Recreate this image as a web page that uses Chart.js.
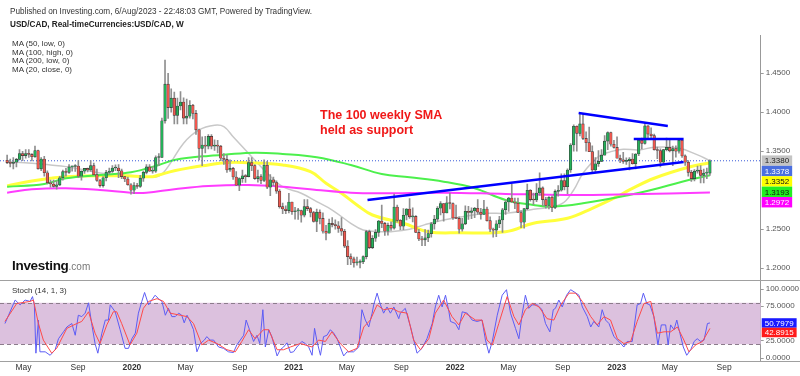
<!DOCTYPE html>
<html>
<head>
<meta charset="utf-8">
<script src="https://cdn.jsdelivr.net/npm/chart.js@4.4.0/dist/chart.umd.min.js"></script>
<style>
  html, body { margin: 0; padding: 0; background: #fff; }
  body { width: 800px; height: 376px; position: relative; overflow: hidden;
         font-family: "Liberation Sans", Arial, sans-serif; color: #333; }
  .t { position: absolute; white-space: nowrap; z-index: 2; }
  #priceBox { position: absolute; left: 0; top: 0; width: 800px; height: 281px; }
  #stochBox { position: absolute; left: 0; top: 281px; width: 800px; height: 95px; }
  .sep { position: absolute; left: 0; width: 800px; height: 1px; background: #a0a0a0; z-index: 1; }
</style>
</head>
<body>
<div id="priceBox"><canvas id="priceChart" width="800" height="281"></canvas></div>
<div id="stochBox"><canvas id="stochChart" width="800" height="95"></canvas></div>
<div class="sep" style="top:280px"></div>
<div class="sep" style="top:361px"></div>

<div class="t" style="left:10px;top:7px;font-size:8.2px;">Published on Investing.com, 6/Aug/2023 - 22:48:03 GMT, Powered by TradingView.</div>
<div class="t" style="left:10px;top:20px;font-size:8.2px;font-weight:bold;color:#222;">USD/CAD, Real-timeCurrencies:USD/CAD, W</div>
<div class="t" style="left:12px;top:40px;font-size:8px;line-height:8.5px;">MA (50, low, 0)<br>MA (100, high, 0)<br>MA (200, low, 0)<br>MA (20, close, 0)</div>
<div class="t" style="left:320px;top:108px;font-size:12.5px;line-height:14.7px;font-weight:bold;color:#f01818;">The 100 weekly SMA<br>held as support</div>
<div class="t" style="left:12px;top:258px;font-size:13.5px;font-weight:bold;color:#111;letter-spacing:-0.3px;">Investing<span style="font-weight:normal;color:#777;font-size:10px;letter-spacing:0">.com</span></div>
<div class="t" style="left:12px;top:286px;font-size:8px;">Stoch (14, 1, 3)</div>

<script>
// weekly USD/CAD candles, week 0 = 25 Mar 2019, week 227 = 31 Jul 2023
const opens = [
  1.3385, 1.3355, 1.3345, 1.3360, 1.3395, 1.3470, 1.3445, 1.3470, 1.3460, 1.3430, 1.3510, 1.3275,
  1.3400, 1.3225, 1.3095, 1.3080, 1.3050, 1.3070, 1.3160, 1.3240, 1.3230, 1.3300, 1.3305, 1.3310,
  1.3180, 1.3245, 1.3280, 1.3260, 1.3315, 1.3200, 1.3125, 1.3060, 1.3160, 1.3230, 1.3240, 1.3285,
  1.3285, 1.3250, 1.3175, 1.3145, 1.3070, 1.3000, 1.3060, 1.3050, 1.3155, 1.3230, 1.3300, 1.3245,
  1.3245, 1.3420, 1.3420, 1.3890, 1.4360, 1.4060, 1.4180, 1.3960, 1.4080, 1.4130, 1.3925, 1.3950,
  1.4090, 1.3985, 1.3775, 1.3535, 1.3580, 1.3565, 1.3690, 1.3565, 1.3580, 1.3565, 1.3410, 1.3395,
  1.3260, 1.3280, 1.3170, 1.3065, 1.3150, 1.3185, 1.3175, 1.3355, 1.3315, 1.3150, 1.3175, 1.3125,
  1.3320, 1.3040, 1.3135, 1.3100, 1.2990, 1.2790, 1.2760, 1.2740, 1.2850, 1.2725, 1.2735, 1.2740,
  1.2680, 1.2790, 1.2765, 1.2715, 1.2600, 1.2720, 1.2640, 1.2475, 1.2450, 1.2575, 1.2560, 1.2545,
  1.2510, 1.2475, 1.2285, 1.2150, 1.2120, 1.2070, 1.2075, 1.2085, 1.2150, 1.2470, 1.2265, 1.2385,
  1.2460, 1.2605, 1.2575, 1.2475, 1.2550, 1.2515, 1.2785, 1.2615, 1.2540, 1.2680, 1.2760, 1.2660,
  1.2665, 1.2460, 1.2375, 1.2365, 1.2390, 1.2445, 1.2570, 1.2630, 1.2770, 1.2830, 1.2710, 1.2840,
  1.2830, 1.2645, 1.2640, 1.2500, 1.2570, 1.2730, 1.2715, 1.2735, 1.2770, 1.2720, 1.2690, 1.2760,
  1.2610, 1.2500, 1.2490, 1.2570, 1.2620, 1.2750, 1.2850, 1.2900, 1.2850, 1.2835, 1.2715, 1.2590,
  1.2765, 1.3000, 1.2880, 1.2875, 1.2965, 1.3030, 1.2880, 1.2805, 1.2910, 1.2780, 1.2985, 1.3000,
  1.3125, 1.3045, 1.3260, 1.3580, 1.3820, 1.3730, 1.3850, 1.3665, 1.3610, 1.3495, 1.3260, 1.3340,
  1.3370, 1.3450, 1.3630, 1.3740, 1.3590, 1.3550, 1.3410, 1.3390, 1.3370, 1.3380, 1.3400, 1.3340,
  1.3465, 1.3640, 1.3600, 1.3825, 1.3720, 1.3700, 1.3520, 1.3510, 1.3360, 1.3520, 1.3550, 1.3505,
  1.3535, 1.3500, 1.3640, 1.3440, 1.3360, 1.3230, 1.3150, 1.3245, 1.3260, 1.3190, 1.3220, 1.3220
];
const highs = [
  1.3450, 1.3400, 1.3420, 1.3410, 1.3520, 1.3500, 1.3520, 1.3520, 1.3470, 1.3565, 1.3515, 1.3420,
  1.3435, 1.3250, 1.3130, 1.3130, 1.3120, 1.3180, 1.3260, 1.3280, 1.3330, 1.3310, 1.3330, 1.3380,
  1.3250, 1.3280, 1.3285, 1.3380, 1.3350, 1.3270, 1.3140, 1.3175, 1.3255, 1.3285, 1.3315, 1.3325,
  1.3330, 1.3270, 1.3180, 1.3170, 1.3085, 1.3100, 1.3090, 1.3190, 1.3245, 1.3330, 1.3330, 1.3300,
  1.3440, 1.3470, 1.3925, 1.4667, 1.4500, 1.4300, 1.4260, 1.4180, 1.4265, 1.4185, 1.4170, 1.4150,
  1.4100, 1.4025, 1.3785, 1.3685, 1.3690, 1.3715, 1.3715, 1.3645, 1.3640, 1.3575, 1.3470, 1.3450,
  1.3390, 1.3295, 1.3240, 1.3160, 1.3260, 1.3200, 1.3420, 1.3420, 1.3330, 1.3260, 1.3200, 1.3390,
  1.3370, 1.3200, 1.3170, 1.3120, 1.3010, 1.2835, 1.2800, 1.2960, 1.2850, 1.2780, 1.2770, 1.2745,
  1.2880, 1.2880, 1.2780, 1.2730, 1.2760, 1.2750, 1.2710, 1.2550, 1.2630, 1.2650, 1.2620, 1.2600,
  1.2650, 1.2500, 1.2355, 1.2185, 1.2145, 1.2145, 1.2110, 1.2160, 1.2485, 1.2490, 1.2420, 1.2495,
  1.2615, 1.2810, 1.2590, 1.2580, 1.2595, 1.2950, 1.2810, 1.2625, 1.2765, 1.2765, 1.2895, 1.2775,
  1.2675, 1.2500, 1.2410, 1.2495, 1.2490, 1.2590, 1.2680, 1.2790, 1.2855, 1.2830, 1.2920, 1.2965,
  1.2840, 1.2810, 1.2660, 1.2640, 1.2800, 1.2795, 1.2775, 1.2780, 1.2880, 1.2770, 1.2870, 1.2785,
  1.2660, 1.2515, 1.2610, 1.2665, 1.2770, 1.2870, 1.2910, 1.3075, 1.2900, 1.2900, 1.2740, 1.2765,
  1.3080, 1.3010, 1.2965, 1.3085, 1.3225, 1.3045, 1.2910, 1.2920, 1.2930, 1.3005, 1.3060, 1.3210,
  1.3210, 1.3275, 1.3600, 1.3840, 1.3825, 1.3975, 1.3977, 1.3750, 1.3810, 1.3570, 1.3420, 1.3510,
  1.3520, 1.3700, 1.3750, 1.3745, 1.3640, 1.3685, 1.3450, 1.3485, 1.3415, 1.3420, 1.3470, 1.3470,
  1.3665, 1.3670, 1.3862, 1.3830, 1.3800, 1.3720, 1.3555, 1.3530, 1.3525, 1.3668, 1.3640, 1.3565,
  1.3570, 1.3655, 1.3655, 1.3455, 1.3380, 1.3255, 1.3265, 1.3310, 1.3315, 1.3270, 1.3285, 1.3390
];
const lows = [
  1.3340, 1.3300, 1.3275, 1.3300, 1.3390, 1.3380, 1.3410, 1.3420, 1.3375, 1.3420, 1.3270, 1.3250,
  1.3180, 1.3080, 1.3040, 1.3040, 1.3015, 1.3060, 1.3130, 1.3180, 1.3215, 1.3245, 1.3240, 1.3160,
  1.3130, 1.3215, 1.3235, 1.3240, 1.3195, 1.3115, 1.3040, 1.3040, 1.3120, 1.3210, 1.3230, 1.3250,
  1.3160, 1.3150, 1.3110, 1.3065, 1.2950, 1.2955, 1.3025, 1.3035, 1.3115, 1.3210, 1.3240, 1.3220,
  1.3230, 1.3315, 1.3420, 1.3860, 1.3920, 1.4000, 1.3850, 1.3850, 1.4030, 1.3850, 1.3850, 1.3925,
  1.3915, 1.3715, 1.3390, 1.3315, 1.3480, 1.3530, 1.3530, 1.3510, 1.3480, 1.3380, 1.3330, 1.3230,
  1.3240, 1.3140, 1.3060, 1.2995, 1.3100, 1.3100, 1.3170, 1.3250, 1.3140, 1.3105, 1.3085, 1.3110,
  1.3020, 1.2930, 1.3060, 1.2960, 1.2770, 1.2700, 1.2700, 1.2710, 1.2690, 1.2630, 1.2625, 1.2590,
  1.2660, 1.2740, 1.2660, 1.2590, 1.2470, 1.2570, 1.2450, 1.2365, 1.2450, 1.2530, 1.2500, 1.2460,
  1.2420, 1.2265, 1.2045, 1.2045, 1.2015, 1.2040, 1.2005, 1.2060, 1.2120, 1.2250, 1.2250, 1.2345,
  1.2410, 1.2520, 1.2420, 1.2425, 1.2485, 1.2500, 1.2590, 1.2495, 1.2495, 1.2620, 1.2640, 1.2595,
  1.2455, 1.2355, 1.2290, 1.2290, 1.2340, 1.2400, 1.2500, 1.2600, 1.2685, 1.2605, 1.2710, 1.2760,
  1.2625, 1.2635, 1.2450, 1.2475, 1.2560, 1.2625, 1.2635, 1.2650, 1.2690, 1.2630, 1.2690, 1.2605,
  1.2470, 1.2400, 1.2405, 1.2520, 1.2460, 1.2690, 1.2730, 1.2845, 1.2765, 1.2715, 1.2520, 1.2515,
  1.2750, 1.2860, 1.2815, 1.2855, 1.2935, 1.2800, 1.2770, 1.2760, 1.2725, 1.2765, 1.2925, 1.2990,
  1.3005, 1.2955, 1.3230, 1.3500, 1.3500, 1.3695, 1.3650, 1.3500, 1.3495, 1.3230, 1.3225, 1.3305,
  1.3365, 1.3450, 1.3520, 1.3565, 1.3540, 1.3410, 1.3355, 1.3345, 1.3330, 1.3260, 1.3335, 1.3275,
  1.3445, 1.3530, 1.3590, 1.3655, 1.3650, 1.3515, 1.3405, 1.3300, 1.3340, 1.3505, 1.3490, 1.3315,
  1.3425, 1.3475, 1.3420, 1.3320, 1.3180, 1.3115, 1.3120, 1.3220, 1.3095, 1.3095, 1.3150, 1.3190
];
const closes = [
  1.3355, 1.3345, 1.3360, 1.3395, 1.3470, 1.3445, 1.3470, 1.3460, 1.3430, 1.3510, 1.3275, 1.3400,
  1.3225, 1.3095, 1.3080, 1.3050, 1.3070, 1.3160, 1.3240, 1.3230, 1.3300, 1.3305, 1.3310, 1.3180,
  1.3245, 1.3280, 1.3260, 1.3315, 1.3200, 1.3125, 1.3060, 1.3160, 1.3230, 1.3240, 1.3285, 1.3285,
  1.3250, 1.3175, 1.3145, 1.3070, 1.3000, 1.3060, 1.3050, 1.3155, 1.3230, 1.3300, 1.3245, 1.3245,
  1.3420, 1.3420, 1.3890, 1.4360, 1.4060, 1.4180, 1.3960, 1.4080, 1.4130, 1.3925, 1.3950, 1.4090,
  1.3985, 1.3775, 1.3535, 1.3580, 1.3565, 1.3690, 1.3565, 1.3580, 1.3565, 1.3410, 1.3395, 1.3260,
  1.3280, 1.3170, 1.3065, 1.3150, 1.3185, 1.3175, 1.3355, 1.3315, 1.3150, 1.3175, 1.3125, 1.3320,
  1.3040, 1.3135, 1.3100, 1.2990, 1.2790, 1.2760, 1.2740, 1.2850, 1.2725, 1.2735, 1.2740, 1.2680,
  1.2790, 1.2765, 1.2715, 1.2600, 1.2720, 1.2640, 1.2475, 1.2450, 1.2575, 1.2560, 1.2545, 1.2510,
  1.2475, 1.2285, 1.2150, 1.2120, 1.2070, 1.2075, 1.2085, 1.2150, 1.2470, 1.2265, 1.2385, 1.2460,
  1.2605, 1.2575, 1.2475, 1.2550, 1.2515, 1.2785, 1.2615, 1.2540, 1.2680, 1.2760, 1.2660, 1.2665,
  1.2460, 1.2375, 1.2365, 1.2390, 1.2445, 1.2570, 1.2630, 1.2770, 1.2830, 1.2710, 1.2840, 1.2830,
  1.2645, 1.2640, 1.2500, 1.2570, 1.2730, 1.2715, 1.2735, 1.2770, 1.2720, 1.2690, 1.2760, 1.2610,
  1.2500, 1.2490, 1.2570, 1.2620, 1.2750, 1.2850, 1.2900, 1.2850, 1.2835, 1.2715, 1.2590, 1.2765,
  1.3000, 1.2880, 1.2875, 1.2965, 1.3030, 1.2880, 1.2805, 1.2910, 1.2780, 1.2985, 1.3000, 1.3125,
  1.3045, 1.3260, 1.3580, 1.3820, 1.3730, 1.3850, 1.3665, 1.3610, 1.3495, 1.3260, 1.3340, 1.3370,
  1.3450, 1.3630, 1.3740, 1.3590, 1.3550, 1.3410, 1.3390, 1.3370, 1.3380, 1.3400, 1.3340, 1.3465,
  1.3640, 1.3600, 1.3825, 1.3720, 1.3700, 1.3520, 1.3510, 1.3360, 1.3520, 1.3550, 1.3505, 1.3535,
  1.3500, 1.3640, 1.3440, 1.3360, 1.3230, 1.3150, 1.3245, 1.3260, 1.3190, 1.3220, 1.3220, 1.3378
];

// moving averages (week, value)
const ma50Weeks = [0, 8, 14, 19, 30, 40, 47, 49, 54, 60, 65, 70, 78, 89, 98, 103, 108, 113, 118, 128, 136, 146, 161, 170, 181, 189, 197, 201, 209, 220, 227];
const ma50Vals = [1.3055, 1.3119, 1.3154, 1.3174, 1.3187, 1.3183, 1.3174, 1.3196, 1.3251, 1.3295, 1.3324, 1.3354, 1.3354, 1.3324, 1.3238, 1.3090, 1.2962, 1.2812, 1.2683, 1.2577, 1.2469, 1.2456, 1.2469, 1.2577, 1.2641, 1.2769, 1.2918, 1.3004, 1.3154, 1.3295, 1.3352];
const ma100Weeks = [0, 12, 19, 30, 40, 49, 54, 60, 65, 70, 80, 89, 100, 111, 121, 130, 141, 151, 161, 170, 176, 186, 201, 209, 218, 227];
const ma100Vals = [1.3046, 1.3081, 1.3154, 1.3196, 1.3231, 1.3324, 1.3388, 1.3423, 1.3440, 1.3456, 1.3482, 1.3465, 1.3423, 1.3324, 1.3209, 1.3167, 1.3110, 1.3026, 1.2876, 1.2812, 1.2790, 1.2833, 1.2940, 1.3013, 1.3110, 1.3193];
const ma200Weeks = [0, 8, 19, 30, 40, 45, 54, 65, 78, 89, 100, 111, 121, 141, 161, 181, 201, 227];
const ma200Vals = [1.2969, 1.3013, 1.3026, 1.3004, 1.2969, 1.2969, 1.3013, 1.3055, 1.3068, 1.3046, 1.3004, 1.2969, 1.2962, 1.2969, 1.2953, 1.2940, 1.2949, 1.2972];
const ma20Weeks = [0, 8, 14, 19, 25, 30, 35, 40, 45, 49, 52, 57, 62, 67, 70, 73, 76, 79, 84, 89, 95, 100, 105, 111, 115, 121, 124, 130, 135, 141, 147, 155, 161, 170, 179, 183, 186, 191, 195, 199, 204, 209, 217, 223, 227];
const ma20Vals = [1.3367, 1.3346, 1.3324, 1.3303, 1.3260, 1.3220, 1.3200, 1.3190, 1.3170, 1.3183, 1.3303, 1.3603, 1.3773, 1.3833, 1.3815, 1.3687, 1.3559, 1.3431, 1.3218, 1.3046, 1.2962, 1.2854, 1.2747, 1.2577, 1.2491, 1.2469, 1.2469, 1.2500, 1.2560, 1.2620, 1.2660, 1.2705, 1.2705, 1.2756, 1.2824, 1.3004, 1.3218, 1.3431, 1.3495, 1.3526, 1.3517, 1.3551, 1.3538, 1.3453, 1.3380];

// drawn trend lines (week, price)
const supportWeeks = [116.4, 218.5];
const supportVals = [1.2876, 1.3363];
const topWeeks = [184.6, 213.4];
const topVals = [1.3991, 1.3824];
const shelfWeeks = [202.4, 218.5];
const shelfVals = [1.3658, 1.3658];

// stochastic (14,1,3)
const kWeeks = [-0.7, 2.6, 4.2, 5.8, 7.4, 8.2, 8.8, 9.3, 10.1, 10.6, 12.3, 13.9, 15.5, 16.6, 18.2, 19.3, 20.9, 22.0, 23.0, 24.1, 25.2, 26.3, 27.3, 28.4, 29.3, 30.6, 31.7, 32.7, 33.3, 34.9, 36.5, 38.1, 39.2, 40.3, 41.4, 42.4, 43.5, 44.4, 45.7, 46.7, 47.8, 48.9, 50.0, 51.1, 52.1, 53.2, 54.3, 55.4, 56.4, 57.2, 58.1, 59.1, 60.2, 61.3, 62.4, 63.7, 64.5, 65.6, 66.7, 68.3, 69.9, 71.5, 73.1, 74.2, 75.3, 76.4, 77.2, 78.3, 79.6, 80.7, 81.6, 82.6, 83.4, 84.5, 85.5, 87.2, 88.2, 89.3, 90.4, 91.5, 92.5, 93.6, 95.2, 96.3, 97.4, 98.5, 99.3, 100.1, 101.2, 102.2, 103.3, 104.4, 105.5, 106.6, 107.6, 108.7, 109.8, 111.9, 113.6, 114.6, 115.7, 116.8, 117.9, 118.4, 119.5, 120.6, 121.6, 122.7, 123.8, 124.9, 126.5, 127.0, 128.6, 130.3, 132.4, 134.0, 135.6, 137.3, 138.3, 139.4, 140.5, 141.6, 142.7, 143.2, 144.8, 145.9, 147.0, 148.6, 150.2, 151.8, 153.4, 154.5, 155.6, 156.7, 158.3, 159.9, 161.3, 162.6, 164.2, 165.3, 166.4, 167.4, 168.5, 169.6, 171.2, 172.8, 173.9, 175.3, 176.4, 177.1, 178.2, 179.3, 180.7, 182.0, 183.1, 184.7, 185.8, 187.4, 188.5, 189.5, 191.1, 192.2, 193.3, 194.4, 196.0, 197.6, 199.2, 200.3, 201.9, 203.5, 204.6, 205.5, 206.6, 207.6, 208.9, 210.2, 211.3, 212.7, 213.5, 214.3, 215.4, 216.3, 217.3, 218.4, 219.5, 220.8, 221.9, 222.9, 224.0, 225.1, 226.2, 227];
const kVals = [50, 84, 77, 84, 82, 89, 77, 7, 55, 9, 9, 4, 12, 28, 38, 45, 50, 33, 62, 60, 65, 80, 50, 21, 7, 36, 55, 55, 77, 67, 41, 14, 14, 28, 36, 65, 82, 95, 77, 84, 91, 86, 82, 62, 72, 60, 60, 65, 62, 51, 62, 53, 41, 9, 21, 26, 31, 26, 26, 16, 14, 9, 8, 19, 26, 33, 55, 41, 24, 33, 21, 70, 16, 41, 31, 3, 12, 16, 22, 8, 9, 16, 24, 21, 16, 4, 43, 24, 4, 31, 33, 41, 36, 28, 16, 3, 9, 9, 16, 70, 55, 45, 65, 77, 94, 77, 65, 74, 65, 74, 57, 65, 72, 45, 7, 14, 28, 50, 74, 91, 74, 91, 67, 53, 50, 41, 67, 65, 55, 53, 55, 26, 7, 24, 62, 91, 99, 65, 43, 28, 65, 91, 72, 77, 77, 70, 50, 38, 70, 72, 84, 74, 91, 99, 96, 91, 74, 60, 45, 53, 45, 70, 55, 50, 31, 24, 16, 24, 24, 77, 79, 94, 79, 77, 60, 19, 48, 48, 19, 48, 41, 55, 36, 16, 4, 12, 24, 28, 24, 26, 50, 50.7979];
const dWeeks = [-0.7, 3.1, 7.4, 8.5, 10.1, 11.7, 14.4, 16.0, 19.3, 22.5, 24.1, 26.3, 28.4, 30.0, 32.2, 34.3, 35.4, 37.0, 39.7, 41.9, 44.0, 45.7, 48.4, 50.5, 52.7, 55.9, 58.1, 60.2, 62.9, 65.1, 67.8, 71.0, 73.7, 75.8, 78.0, 80.1, 82.8, 84.5, 87.2, 89.3, 91.5, 94.7, 98.5, 100.6, 102.8, 104.9, 107.6, 110.3, 113.0, 115.2, 117.3, 119.5, 121.6, 124.3, 126.5, 129.2, 131.3, 133.5, 136.2, 138.3, 141.0, 143.7, 145.9, 148.0, 151.3, 153.4, 155.0, 156.7, 158.8, 161.5, 163.7, 165.3, 167.4, 169.6, 171.8, 174.4, 176.6, 178.8, 181.5, 183.6, 185.8, 188.5, 190.6, 192.8, 194.9, 197.1, 199.2, 201.4, 203.5, 205.7, 207.9, 210.0, 212.2, 214.3, 216.5, 218.6, 220.2, 222.4, 224.6, 227];
const dVals = [53, 79, 82, 84, 50, 26, 7, 14, 43, 50, 53, 67, 36, 21, 48, 67, 67, 50, 19, 36, 72, 82, 86, 82, 65, 62, 60, 50, 19, 26, 21, 12, 9, 24, 41, 28, 41, 41, 12, 12, 16, 21, 16, 26, 24, 38, 21, 9, 14, 45, 55, 77, 70, 72, 67, 65, 26, 12, 28, 65, 84, 60, 48, 65, 55, 55, 26, 19, 50, 89, 60, 48, 70, 79, 74, 57, 55, 77, 94, 94, 82, 60, 48, 60, 55, 28, 21, 24, 53, 79, 82, 36, 38, 38, 45, 26, 9, 19, 24, 42.8915];

// axis ticks
const priceTicks = [1.20, 1.25, 1.35, 1.40, 1.45];
const stochTicks = [0, 25, 75, 100];
const stochBand = [20, 80];
const tickWeeks = [5.3, 22.9, 40.3, 57.6, 75.1, 92.6, 109.7, 127.3, 144.7, 161.9, 179.4, 196.9, 214.0, 231.6];
const tickNames = ['May', 'Sep', '2020', 'May', 'Sep', '2021', 'May', 'Sep', '2022', 'May', 'Sep', '2023', 'May', 'Sep'];

const xMin = -2.3, xMax = 243.4;
const FONT = '"Liberation Sans", Arial, sans-serif';
const AXIS_W = 39.3;

const pts = (xs, ys) => xs.map((x, i) => ({ x: x, y: ys[i] }));
const last = a => a[a.length - 1];

// fixed axis width and no extra label padding, so the plot fills the panel
function fitRightAxis(s) {
  s.width = AXIS_W;
  s.paddingTop = 0;
  s.paddingBottom = 0;
}

// coloured value boxes on the right axis, pushed down so they do not overlap
function valueTags(id, tags, step) {
  return {
    id: id,
    afterDraw(chart) {
      const ctx = chart.ctx, y = chart.scales.y, left = chart.chartArea.right + 1;
      ctx.save();
      ctx.font = '8px ' + FONT;
      ctx.textBaseline = 'middle';
      let prev = -1e9;
      tags.forEach(t => {
        let py = Math.max(y.getPixelForValue(t.v), prev + step);
        prev = py;
        const txt = t.v.toFixed(4);
        const w = ctx.measureText(txt).width + 6;
        ctx.fillStyle = t.bg;
        ctx.fillRect(left, py - step / 2, w, step);
        ctx.fillStyle = t.fg;
        ctx.fillText(txt, left + 3, py + 0.5);
      });
      ctx.restore();
    }
  };
}

const green = '#24b25a', red = '#f0584f';

new Chart(document.getElementById('priceChart'), {
  type: 'bar',
  data: {
    datasets: [
      { type: 'line', data: pts(ma200Weeks, ma200Vals), borderColor: '#ff3cff', borderWidth: 2, pointRadius: 0, tension: 0.4, order: 5 },
      { type: 'line', data: pts(ma100Weeks, ma100Vals), borderColor: '#4cf04c', borderWidth: 2, pointRadius: 0, tension: 0.4, order: 5 },
      { type: 'line', data: pts(ma50Weeks, ma50Vals), borderColor: '#ffff3c', borderWidth: 3, pointRadius: 0, tension: 0.4, order: 5 },
      { type: 'line', data: pts(ma20Weeks, ma20Vals), borderColor: '#c8c8c8', borderWidth: 1.5, pointRadius: 0, tension: 0.4, order: 5 },
      { type: 'line', data: pts([xMin, xMax], [last(closes), last(closes)]), borderColor: '#3a5ad8', borderWidth: 1, borderDash: [1, 2], pointRadius: 0, order: 4 },
      {
        data: closes.map((c, i) => ({ x: i, y: [lows[i], highs[i]] })),
        backgroundColor: '#8f8f8f', barThickness: 1, grouped: false, order: 3
      },
      {
        data: closes.map((c, i) => ({ x: i, y: [opens[i], c] })),
        backgroundColor: ctx => closes[ctx.dataIndex] >= opens[ctx.dataIndex] ? green : red,
        borderColor: '#3a3a3a', borderWidth: 0.6, borderSkipped: false,
        barThickness: 2.6, minBarLength: 1, grouped: false, order: 2
      },
      { type: 'line', data: pts(supportWeeks, supportVals), borderColor: '#0000ff', borderWidth: 2.5, pointRadius: 0, order: 1 },
      { type: 'line', data: pts(topWeeks, topVals), borderColor: '#0000ff', borderWidth: 2.5, pointRadius: 0, order: 1 },
      { type: 'line', data: pts(shelfWeeks, shelfVals), borderColor: '#0000ff', borderWidth: 2.5, pointRadius: 0, order: 1 }
    ]
  },
  options: {
    responsive: false,
    animation: false,
    events: [],
    layout: { padding: { top: 35, bottom: 1, left: 0, right: 0 } },
    plugins: { legend: { display: false }, tooltip: { enabled: false } },
    scales: {
      x: { type: 'linear', min: xMin, max: xMax, offset: false, display: false },
      y: {
        type: 'linear', position: 'right', min: 1.185, max: 1.499,
        afterBuildTicks: s => { s.ticks = priceTicks.map(v => ({ value: v })); },
        afterFit: fitRightAxis,
        ticks: { callback: v => v.toFixed(4), font: { family: FONT, size: 8 }, color: '#555', padding: 2 },
        grid: { drawOnChartArea: false, tickLength: 3, color: '#999' },
        border: { color: '#999' }
      }
    }
  },
  plugins: [valueTags('priceTags', [
    { v: last(ma20Vals), bg: '#c4c4c4', fg: '#222' },
    { v: last(closes), bg: '#4a6fe0', fg: '#fff' },
    { v: last(ma50Vals), bg: '#ffff00', fg: '#111' },
    { v: last(ma100Vals), bg: '#22ee22', fg: '#111' },
    { v: last(ma200Vals), bg: '#ff00ff', fg: '#fff' }
  ], 10.4)]
});

const bandPlugin = {
  id: 'band',
  beforeDatasetsDraw(chart) {
    const ctx = chart.ctx, a = chart.chartArea, y = chart.scales.y;
    const top = y.getPixelForValue(stochBand[1]), bot = y.getPixelForValue(stochBand[0]);
    ctx.save();
    ctx.fillStyle = '#dcc1de';
    ctx.fillRect(a.left, top, a.right - a.left, bot - top);
    ctx.strokeStyle = '#8c7c8c';
    ctx.lineWidth = 1;
    ctx.setLineDash([4, 3]);
    [top, bot].forEach(py => {
      ctx.beginPath();
      ctx.moveTo(a.left, Math.round(py) + 0.5);
      ctx.lineTo(a.right, Math.round(py) + 0.5);
      ctx.stroke();
    });
    ctx.restore();
  }
};

new Chart(document.getElementById('stochChart'), {
  type: 'line',
  data: {
    datasets: [
      { data: pts(dWeeks, dVals), borderColor: '#ff4a4a', borderWidth: 1, pointRadius: 0, tension: 0 },
      { data: pts(kWeeks, kVals), borderColor: '#5c5cf5', borderWidth: 1, pointRadius: 0, tension: 0 }
    ]
  },
  options: {
    responsive: false,
    animation: false,
    events: [],
    layout: { padding: 0 },
    plugins: { legend: { display: false }, tooltip: { enabled: false } },
    scales: {
      x: {
        type: 'linear', min: xMin, max: xMax, offset: false,
        afterBuildTicks: s => { s.ticks = tickWeeks.map(v => ({ value: v })); },
        afterFit: s => { s.height = 15; s.paddingLeft = 0; s.paddingRight = 0; },
        ticks: {
          autoSkip: false, maxRotation: 0, padding: 2, color: '#333',
          callback: (v, i) => tickNames[i],
          font: ctx => ({ family: FONT, size: 8.5, weight: /^\d/.test(tickNames[ctx.index] || '') ? 'bold' : 'normal' })
        },
        grid: { display: false, drawTicks: false },
        border: { display: true, color: '#999' }
      },
      y: {
        type: 'linear', position: 'right', min: -4.3, max: 111.6,
        afterBuildTicks: s => { s.ticks = stochTicks.map(v => ({ value: v })); },
        afterFit: fitRightAxis,
        ticks: { callback: v => v.toFixed(4), font: { family: FONT, size: 8 }, color: '#555', padding: 2 },
        grid: { drawOnChartArea: false, tickLength: 3, color: '#999' },
        border: { color: '#999' }
      }
    }
  },
  plugins: [bandPlugin, valueTags('stochTags', [
    { v: last(kVals), bg: '#1a1aff', fg: '#fff' },
    { v: last(dVals), bg: '#ff1a1a', fg: '#fff' }
  ], 9.5)]
});
</script>
</body>
</html>
